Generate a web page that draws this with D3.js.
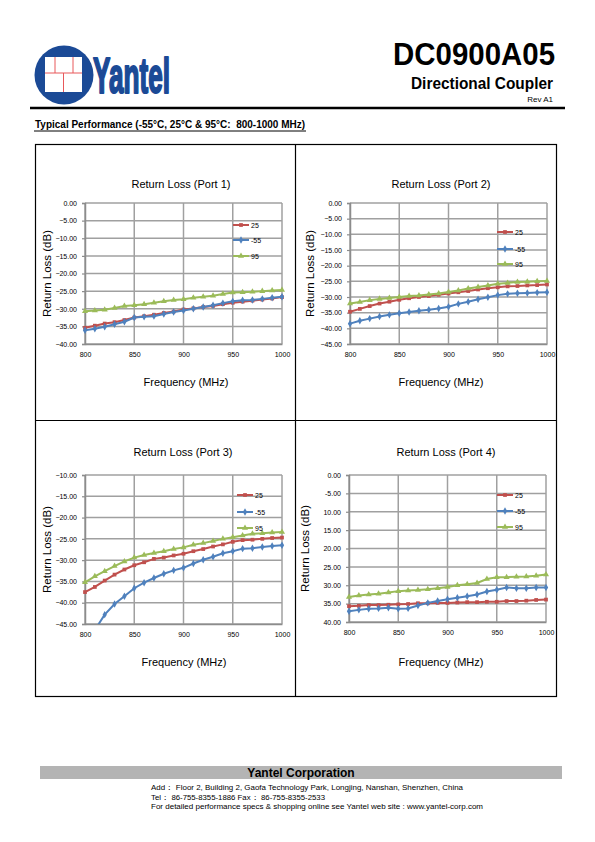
<!DOCTYPE html>
<html><head><meta charset="utf-8">
<script src="https://cdn.jsdelivr.net/npm/d3@7/dist/d3.min.js"></script>
<style>body{margin:0;background:#fff}svg{display:block}</style>
</head><body>
<script>
// ---------- DATA ----------
const freqs = [800,810,820,830,840,850,860,870,880,890,900,910,920,930,940,950,960,970,980,990,1000];
const seriesNames = ["25","-55","95"];
const xTicks = [800,850,900,950,1000];

const port1_25  = [-35.4,-34.8,-34.2,-33.8,-33.2,-32.5,-32.1,-31.7,-31.2,-30.8,-30.2,-29.9,-29.5,-29.2,-28.7,-28.3,-28.0,-27.7,-27.4,-27.1,-26.7];
const port1_m55 = [-36.1,-35.7,-35.1,-34.4,-33.7,-32.5,-32.3,-32.1,-31.5,-30.9,-30.5,-30.0,-29.5,-29.0,-28.4,-27.9,-27.6,-27.5,-27.2,-26.9,-26.6];
const port1_95  = [-30.7,-30.5,-30.3,-29.8,-29.2,-29.0,-28.7,-28.3,-27.9,-27.5,-27.3,-26.9,-26.6,-26.3,-25.8,-25.4,-25.3,-25.2,-25.0,-24.8,-24.7];

const port2_25  = [-34.7,-33.8,-32.9,-32.1,-31.5,-30.9,-30.4,-30.0,-29.7,-29.3,-28.9,-28.5,-28.1,-27.6,-27.2,-26.9,-26.6,-26.5,-26.3,-26.2,-26.0];
const port2_m55 = [-38.5,-37.6,-36.9,-36.2,-35.7,-35.2,-34.8,-34.4,-34.1,-33.7,-33.1,-32.2,-31.5,-30.7,-30.1,-29.4,-29.0,-28.8,-28.7,-28.6,-28.5];
const port2_95  = [-32.1,-31.6,-31.0,-30.6,-30.3,-30.0,-29.7,-29.5,-29.2,-28.9,-28.4,-27.9,-27.3,-26.8,-26.3,-25.8,-25.5,-25.2,-25.1,-25.0,-24.9];

const port3_25  = [-37.5,-36.3,-34.8,-33.4,-32.2,-31.2,-30.5,-29.7,-29.4,-28.9,-28.5,-27.9,-27.4,-26.8,-26.3,-25.7,-25.3,-25.2,-25.0,-24.8,-24.7];
const port3_m55 = [-51.0,-46.4,-42.8,-40.3,-38.5,-36.6,-35.3,-34.2,-33.2,-32.4,-31.8,-30.8,-29.9,-29.2,-28.4,-27.9,-27.3,-27.2,-26.9,-26.7,-26.5];
const port3_95  = [-35.2,-33.8,-32.6,-31.4,-30.3,-29.4,-28.8,-28.3,-27.9,-27.4,-27.0,-26.4,-26.0,-25.5,-25.0,-24.6,-24.2,-23.8,-23.7,-23.5,-23.4];

const port4_25  = [35.7,35.6,35.4,35.4,35.3,35.2,35.1,34.9,34.9,34.8,34.8,34.7,34.6,34.6,34.5,34.5,34.3,34.3,34.2,34.0,33.9];
const port4_m55 = [37.1,36.7,36.4,36.3,36.1,36.4,36.3,35.5,34.8,34.3,33.8,33.4,33.0,32.5,31.7,31.2,30.6,30.8,30.8,30.6,30.6];
const port4_95  = [33.2,32.8,32.5,32.3,32.0,31.6,31.4,31.3,31.1,30.8,30.5,30.0,29.7,29.4,28.3,27.8,27.8,27.7,27.6,27.4,27.1];

const yTicks1 = [0,-5,-10,-15,-20,-25,-30,-35,-40];
const yTicks2 = [0,-5,-10,-15,-20,-25,-30,-35,-40,-45];
const yTicks3 = [-10,-15,-20,-25,-30,-35,-40,-45];
const yTicks4 = [0,5,10,15,20,25,30,35,40];
const yTickLabels4 = ["0.00","-5.00","10.00","15.00","20.00","25.00","30.00","35.00","40.00"];

const chartTitles = ["Return Loss (Port 1)","Return Loss (Port 2)","Return Loss (Port 3)","Return Loss (Port 4)"];

// ---------- LAYOUT ----------
const colors = ["#c0504d","#4f81bd","#9bbb59"];
const symbols = [d3.symbolSquare, d3.symbolDiamond, d3.symbolTriangle];
const symSizes = [14, 16, 16];
const FONT = "'Liberation Sans', Arial, sans-serif";

const svg = d3.select("body").append("svg").attr("width",595).attr("height",842)
  .style("font-family", FONT);

// Header logo
const logo = svg.append("g");
logo.append("circle").attr("cx",64).attr("cy",75).attr("r",29.5).attr("fill","#1b4a96");
logo.append("rect").attr("x",45).attr("y",57).attr("width",37).attr("height",35).attr("fill","#fff");
const red = "#e8585a";
logo.append("line").attr("x1",45).attr("x2",82).attr("y1",73).attr("y2",73).attr("stroke",red).attr("stroke-width",1);
logo.append("line").attr("x1",55).attr("x2",55).attr("y1",57).attr("y2",73).attr("stroke",red).attr("stroke-width",1);
logo.append("line").attr("x1",73).attr("x2",73).attr("y1",57).attr("y2",73).attr("stroke",red).attr("stroke-width",1);
logo.append("line").attr("x1",63.5).attr("x2",63.5).attr("y1",73).attr("y2",92).attr("stroke",red).attr("stroke-width",1);
svg.append("text").attr("x",93).attr("y",93).attr("font-size",50).attr("font-weight","bold")
  .attr("fill","#1b4a96").attr("stroke","#1b4a96").attr("stroke-width",2.2).attr("stroke-linejoin","round")
  .attr("textLength",77).attr("lengthAdjust","spacingAndGlyphs")
  .style("font-family","'Liberation Sans Narrow', 'Liberation Sans', sans-serif").text("Yantel");

svg.append("text").attr("x",555).attr("y",65).attr("text-anchor","end").attr("font-size",32).attr("font-weight","bold")
  .attr("textLength",162).attr("lengthAdjust","spacingAndGlyphs").text("DC0900A05");
svg.append("text").attr("x",553).attr("y",89).attr("text-anchor","end").attr("font-size",16).attr("font-weight","bold")
  .attr("textLength",142).attr("lengthAdjust","spacingAndGlyphs").text("Directional Coupler");
svg.append("text").attr("x",553).attr("y",102).attr("text-anchor","end").attr("font-size",8)
  .text("Rev A1");
svg.append("line").attr("x1",30).attr("x2",565).attr("y1",108).attr("y2",108).attr("stroke","#000").attr("stroke-width",2.5);

svg.append("text").attr("x",35).attr("y",128).attr("font-size",10.5).attr("font-weight","bold")
  .style("white-space","pre")
  .attr("textLength",270).attr("lengthAdjust","spacingAndGlyphs")
  .text("Typical Performance (-55°C, 25°C & 95°C:  800-1000 MHz)");
svg.append("line").attr("x1",34).attr("x2",306).attr("y1",131).attr("y2",131).attr("stroke","#000").attr("stroke-width",1);

// Outer grid box
const box = svg.append("g").attr("stroke","#000").attr("stroke-width",1.2).attr("fill","none");
box.append("rect").attr("x",35.5).attr("y",144.5).attr("width",521).attr("height",552);
box.append("line").attr("x1",295.5).attr("x2",295.5).attr("y1",144.5).attr("y2",696.5);
box.append("line").attr("x1",35.5).attr("x2",556.5).attr("y1",420.5).attr("y2",420.5);

// ---------- CHARTS ----------
const charts = [
  {x0:85, x1:282, y0:203, y1:344, dom:[-40,0], ticks:yTicks1, labels:null, series:[port1_25,port1_m55,port1_95],
   title:[181,188], ytitle:47, xtitle:[186,386], legend:{x:233, ys:[225,240,256]}},
  {x0:350, x1:547, y0:203, y1:344, dom:[-45,0], ticks:yTicks2, labels:null, series:[port2_25,port2_m55,port2_95],
   title:[441,188], ytitle:310, xtitle:[441,386], legend:{x:497, ys:[232,249,264]}},
  {x0:85, x1:282, y0:475, y1:624, dom:[-45,-10], ticks:yTicks3, labels:null, series:[port3_25,port3_m55,port3_95],
   title:[183,456], ytitle:47, xtitle:[184,666], legend:{x:237, ys:[495,512,528]}},
  {x0:349, x1:546, y0:475, y1:622, dom:[40,0], ticks:yTicks4, labels:yTickLabels4, series:[port4_25,port4_m55,port4_95],
   title:[446,456], ytitle:305, xtitle:[441,666], legend:{x:497, ys:[495,511,527]}}
];

charts.forEach((c, ci) => {
  const g = svg.append("g");
  const x = d3.scaleLinear().domain([800,1000]).range([c.x0,c.x1]);
  const y = d3.scaleLinear().domain(c.dom).range([c.y1,c.y0]);

  // gridlines
  g.append("g").selectAll("line").data(c.ticks).join("line")
    .attr("x1",c.x0).attr("x2",c.x1).attr("y1",d=>y(d)).attr("y2",d=>y(d))
    .attr("stroke","#a0a0a0").attr("stroke-width",1.5);
  g.append("g").selectAll("line").data(xTicks).join("line")
    .attr("x1",d=>x(d)).attr("x2",d=>x(d)).attr("y1",c.y0).attr("y2",c.y1)
    .attr("stroke","#a0a0a0").attr("stroke-width",1.5);

  // axes
  const fmt = c.labels ? ((d,i)=>c.labels[i]) : d3.format(".2f");
  const yAxis = g.append("g").attr("transform",`translate(${c.x0},0)`)
    .call(d3.axisLeft(y).tickValues(c.ticks).tickFormat(fmt).tickSize(3).tickPadding(5));
  const xAxis = g.append("g").attr("transform",`translate(0,${c.y1})`)
    .call(d3.axisBottom(x).tickValues(xTicks).tickFormat(d3.format("d")).tickSize(0).tickPadding(8));
  [yAxis,xAxis].forEach(a=>{
    a.select(".domain").attr("stroke","#8c8c8c").attr("stroke-width",1.5);
    a.selectAll(".tick line").attr("stroke","#8c8c8c").attr("stroke-width",1.2);
    a.selectAll("text").attr("font-size",7).attr("fill","#000").style("font-family",FONT);
  });

  // clip
  const clipId = "clip"+ci;
  svg.append("clipPath").attr("id",clipId).append("rect")
    .attr("x",c.x0-4).attr("y",c.y0-4).attr("width",c.x1-c.x0+8).attr("height",c.y1-c.y0+4);

  const plot = g.append("g").attr("clip-path",`url(#${clipId})`);
  const line = d3.line().x((d,i)=>x(freqs[i])).y(d=>y(d));
  c.series.forEach((s, si) => {
    plot.append("path").datum(s).attr("d",line).attr("fill","none")
      .attr("stroke",colors[si]).attr("stroke-width",2);
    plot.append("g").selectAll("path").data(s).join("path")
      .attr("transform",(d,i)=>`translate(${x(freqs[i])},${y(d)})`)
      .attr("d",d3.symbol().type(symbols[si]).size(symSizes[si]))
      .attr("fill",colors[si]);
  });

  // legend
  seriesNames.forEach((n, si) => {
    const ly = c.legend.ys[si];
    g.append("line").attr("x1",c.legend.x).attr("x2",c.legend.x+16).attr("y1",ly).attr("y2",ly)
      .attr("stroke",colors[si]).attr("stroke-width",2);
    g.append("path").attr("transform",`translate(${c.legend.x+8},${ly})`)
      .attr("d",d3.symbol().type(symbols[si]).size(symSizes[si])).attr("fill",colors[si]);
    g.append("text").attr("x",c.legend.x+18).attr("y",ly+2.5).attr("font-size",7).text(n);
  });

  // titles
  g.append("text").attr("x",c.title[0]).attr("y",c.title[1]).attr("text-anchor","middle")
    .attr("font-size",11).text(chartTitles[ci]);
  g.append("text").attr("transform",`translate(${c.ytitle},${(c.y0+c.y1)/2}) rotate(-90)`)
    .attr("text-anchor","middle").attr("dy","0.35em").attr("font-size",11.5).text("Return Loss (dB)");
  g.append("text").attr("x",c.xtitle[0]).attr("y",c.xtitle[1]).attr("text-anchor","middle")
    .attr("font-size",11).text("Frequency (MHz)");
});

// ---------- FOOTER ----------
svg.append("rect").attr("x",40).attr("y",766).attr("width",522).attr("height",13).attr("fill","#b4b4b4");
svg.append("text").attr("x",301).attr("y",777).attr("text-anchor","middle").attr("font-size",12).attr("font-weight","bold")
  .text("Yantel Corporation");
const footLines = [
  "Add\uFF1A Floor 2, Building 2, Gaofa Technology Park, Longjing, Nanshan, Shenzhen, China",
  "Tel\uFF1A 86-755-8355-1886 Fax\uFF1A 86-755-8355-2533",
  "For detailed performance specs & shopping online see Yantel web site : www.yantel-corp.com"
];
const footLens = [312, 174, 332];
svg.append("g").selectAll("text").data(footLines).join("text")
  .attr("x",151).attr("y",(d,i)=>790+i*9.5).attr("font-size",7.5)
  .attr("textLength",(d,i)=>footLens[i]).attr("lengthAdjust","spacingAndGlyphs")
  .text(d=>d);
</script>
</body></html>
